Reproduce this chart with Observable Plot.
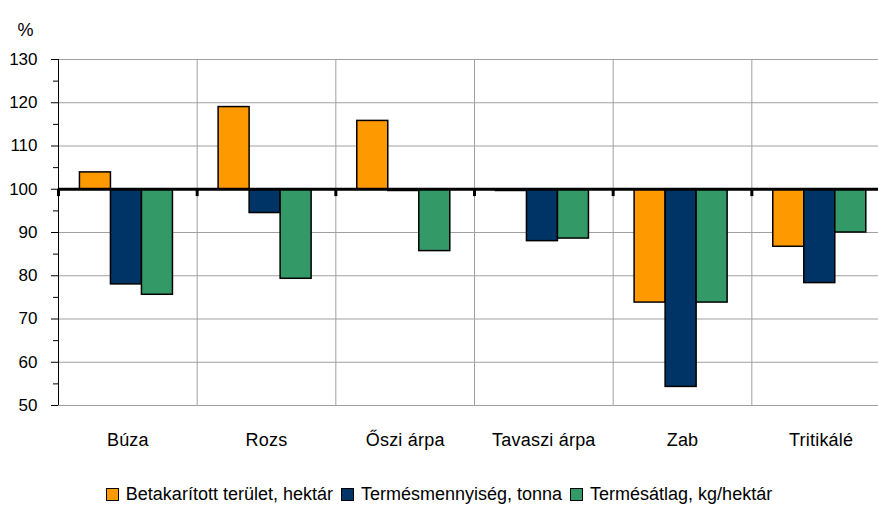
<!DOCTYPE html>
<html>
<head>
<meta charset="utf-8">
<script src="https://cdn.jsdelivr.net/npm/d3@7"></script>
<script src="https://cdn.jsdelivr.net/npm/@observablehq/plot@0.6"></script>
<style>
  html, body { margin: 0; padding: 0; background: #fff; }
  body { width: 878px; height: 509px; overflow: hidden; font-family: "Liberation Sans", Arial, sans-serif; }
  #chart svg { display: block; }
  g[aria-label="x-axis tick label"] text { letter-spacing: 0.2px; }
  .legend { display: flex; justify-content: center; align-items: center; padding-top: 20px;
            font-size: 18px; line-height: 18px; color: #000; letter-spacing: 0px; }
  .legend .item { display: flex; align-items: center; margin: 0 4px; }
  .legend .sw { width: 11px; height: 11px; border: 1.5px solid #000; margin-right: 7px; }
</style>
</head>
<body>
<div id="chart"></div>
<script>
const categories = ["Búza", "Rozs", "Őszi árpa", "Tavaszi árpa", "Zab", "Tritikálé"];
const series = ["Betakarított terület, hektár", "Termésmennyiség, tonna", "Termésátlag, kg/hektár"];
const terulet   = [103.9, 119.0, 115.8, 99.6, 73.8, 86.7];
const mennyiseg = [78.0, 94.5, 99.6, 88.0, 54.3, 78.3];
const atlag     = [75.6, 79.3, 85.7, 88.6, 73.8, 90.0];
const colors = ["#FF9900", "#003366", "#339966"];
const yTicks = [50, 60, 70, 80, 90, 100, 110, 120, 130];
const yMinorTicks = [55, 65, 75, 85, 95, 105, 115, 125];

const values = [terulet, mennyiseg, atlag];
const rows = [];
categories.forEach((c, ci) => {
  series.forEach((s, si) => rows.push({category: c, ci, series: s, si, value: values[si][ci]}));
});
const boundaries = d3.range(categories.length + 1);
const centers = categories.map((c, i) => i + 0.5);
const barW = 0.2236;
const font = "'Liberation Sans', Arial, sans-serif";

const plot = Plot.plot({
  width: 878,
  height: 465,
  marginLeft: 58,
  marginRight: 0,
  marginTop: 59,
  marginBottom: 60,
  style: {fontFamily: font, fontSize: "18px", color: "#000", background: "#fff"},
  x: {domain: [0, categories.length], range: [58, 890], label: null},
  y: {domain: [50, 130], label: null},
  color: {domain: series, range: colors},
  marks: [
    Plot.ruleY(yTicks, {stroke: "#a0a0a0", strokeWidth: 1}),
    Plot.ruleX(boundaries, {y1: 50, y2: 130, stroke: "#a0a0a0", strokeWidth: 1}),
    Plot.rectY(rows, {
      x1: d => d.ci + 0.5 + (d.si - 1.5) * barW - 0.01,
      x2: d => d.ci + 0.5 + (d.si - 0.5) * barW - 0.01,
      y1: 100,
      y2: "value",
      fill: "series",
      stroke: "#000",
      strokeWidth: 1.5
    }),
    Plot.ruleX([0], {y1: 50, y2: 130, stroke: "#000", strokeWidth: 1}),
    Plot.ruleY([100], {stroke: "#000", strokeWidth: 3}),
    Plot.ruleX(boundaries, {y1: 100, y2: 98.3, stroke: "#000", strokeWidth: 3}),
    Plot.axisY(yTicks, {tickSize: 7, tickPadding: 14, fontSize: 17, label: null}),
    Plot.axisY(yMinorTicks, {tickSize: 5, text: null, label: null}),
    Plot.axisX(centers, {tickSize: 0, tickPadding: 28, fontSize: 18, label: null,
      tickFormat: d => categories[Math.floor(d)]}),
    Plot.text(["%"], {frameAnchor: "top-left", dx: -33, dy: -36, fontSize: 18, textAnchor: "middle"})
  ]
});
document.getElementById("chart").appendChild(plot);

const legend = document.createElement("div");
legend.className = "legend";
series.forEach((s, i) => {
  const item = document.createElement("div");
  item.className = "item";
  const sw = document.createElement("span");
  sw.className = "sw";
  sw.style.background = colors[i];
  const t = document.createElement("span");
  t.textContent = s;
  item.appendChild(sw);
  item.appendChild(t);
  legend.appendChild(item);
});
document.getElementById("chart").appendChild(legend);
</script>
</body>
</html>
